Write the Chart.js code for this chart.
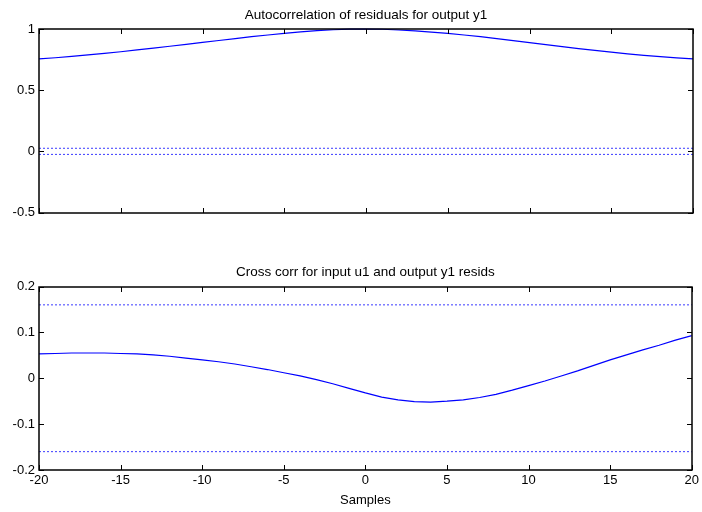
<!DOCTYPE html>
<html>
<head>
<meta charset="utf-8">
<script src="https://cdn.jsdelivr.net/npm/chart.js@4/dist/chart.umd.min.js"></script>
<style>
  html, body { margin: 0; padding: 0; background: #fff; }
  .pane { position: absolute; left: 0; width: 702px; }
  #topPane { top: 0; height: 250px; }
  #botPane { top: 250px; height: 262px; }
</style>
</head>
<body>
<div class="pane" id="topPane"><canvas id="autoCanvas"></canvas></div>
<div class="pane" id="botPane"><canvas id="crossCanvas"></canvas></div>
<script>
// lags shared by both plots
const lags = [-20, -19, -18, -17, -16, -15, -14, -13, -12, -11, -10, -9, -8, -7, -6, -5, -4, -3, -2, -1,
  0, 1, 2, 3, 4, 5, 6, 7, 8, 9, 10, 11, 12, 13, 14, 15, 16, 17, 18, 19, 20];

// autocorrelation of residuals, y1
const autoCorr = [0.755, 0.765, 0.776, 0.788, 0.801, 0.814, 0.829, 0.844, 0.859, 0.875, 0.891, 0.906, 0.921, 0.937, 0.951, 0.965, 0.977, 0.987, 0.994, 0.999,
  1.0, 0.998, 0.992, 0.984, 0.975, 0.964, 0.951, 0.937, 0.922, 0.905, 0.888, 0.872, 0.856, 0.840, 0.825, 0.811, 0.797, 0.785, 0.774, 0.764, 0.755];

// cross correlation u1 -> y1 resids
const crossCorr = [0.053, 0.054, 0.055, 0.055, 0.055, 0.054, 0.053, 0.051, 0.048, 0.044, 0.040, 0.036, 0.031, 0.025, 0.019, 0.012, 0.005, -0.003, -0.012, -0.022,
  -0.032, -0.041, -0.047, -0.051, -0.052, -0.050, -0.047, -0.042, -0.035, -0.026, -0.016, -0.006, 0.005, 0.016, 0.028, 0.040, 0.051, 0.062, 0.072, 0.083, 0.093];

// confidence bounds (x ends, upper, lower)
const confX = [-20, 20];
const autoConfHi = [0.025, 0.025];
const autoConfLo = [-0.025, -0.025];
const crossConfHi = [0.16, 0.16];
const crossConfLo = [-0.16, -0.16];

// tick labels
const xTicks = [-20, -15, -10, -5, 0, 5, 10, 15, 20];
const autoYTicks = [-0.5, 0, 0.5, 1];
const crossYTicks = [-0.2, -0.1, 0, 0.1, 0.2];

const FONT = 'Liberation Sans, Arial, Helvetica, sans-serif';
const BLUE = '#0000ff';

const pts = (xs, ys) => xs.map((x, i) => ({ x, y: ys[i] }));

// matlab style box with inward ticks
const matlabBox = {
  id: 'matlabBox',
  afterDatasetsDraw(chart) {
    const { ctx, chartArea: a, scales: { x, y } } = chart;
    const L = Math.round(a.left), R = Math.round(a.right);
    const T = Math.round(a.top), B = Math.round(a.bottom);
    const len = 5;
    ctx.save();
    ctx.strokeStyle = '#000';
    ctx.lineWidth = 1.5;
    ctx.strokeRect(L, T, R - L, B - T);
    ctx.lineWidth = 1;
    ctx.beginPath();
    x.ticks.forEach(t => {
      const px = Math.round(x.getPixelForValue(t.value)) + 0.5;
      ctx.moveTo(px, B); ctx.lineTo(px, B - len);
      ctx.moveTo(px, T); ctx.lineTo(px, T + len);
    });
    y.ticks.forEach(t => {
      const py = Math.round(y.getPixelForValue(t.value)) + 0.5;
      ctx.moveTo(L, py); ctx.lineTo(L + len, py);
      ctx.moveTo(R, py); ctx.lineTo(R - len, py);
    });
    ctx.stroke();
    ctx.restore();
  }
};

function lineSet(data, dashed) {
  return {
    data,
    borderColor: dashed ? '#3a3aff' : BLUE,
    borderWidth: dashed ? 1 : 1.2,
    borderDash: dashed ? [2, 2] : [],
    pointRadius: 0,
    tension: 0,
    clip: 2
  };
}

function makeChart(canvas, opts) {
  return new Chart(canvas, {
    type: 'line',
    data: {
      datasets: [
        lineSet(pts(lags, opts.series), false),
        lineSet(pts(confX, opts.hi), true),
        lineSet(pts(confX, opts.lo), true)
      ]
    },
    options: {
      responsive: true,
      maintainAspectRatio: false,
      animation: false,
      layout: { padding: { left: 0, right: 9, top: 0, bottom: 0 } },
      plugins: {
        legend: { display: false },
        tooltip: { enabled: false }
      },
      scales: {
        // top axis only carries the subplot title, centred over the plot box
        titleAxis: {
          type: 'linear',
          position: 'top',
          axis: 'x',
          min: -20,
          max: 20,
          grid: { display: false, drawTicks: false },
          border: { display: false },
          ticks: { display: false },
          afterFit: s => { s.height = opts.topHeight; },
          title: {
            display: true,
            text: opts.title,
            color: '#000',
            font: { family: FONT, size: 13.5 },
            padding: { top: opts.titleTop, bottom: 0 }
          }
        },
        x: {
          type: 'linear',
          min: -20,
          max: 20,
          grid: { display: false, drawTicks: false },
          border: { display: false },
          afterBuildTicks: s => { s.ticks = xTicks.map(v => ({ value: v })); },
          afterFit: s => { s.height = opts.xHeight; },
          ticks: {
            display: opts.showX,
            color: '#000',
            padding: 3,
            maxRotation: 0,
            font: { family: FONT, size: 13 }
          },
          title: {
            display: opts.showX,
            text: 'Samples',
            color: '#000',
            font: { family: FONT, size: 13 },
            padding: { top: 0, bottom: 4 }
          }
        },
        y: {
          min: opts.yTicks[0],
          max: opts.yTicks[opts.yTicks.length - 1],
          grid: { display: false, drawTicks: false },
          border: { display: false },
          afterBuildTicks: s => { s.ticks = opts.yTicks.map(v => ({ value: v })); },
          afterFit: s => { s.width = 39; },
          ticks: {
            color: '#000',
            padding: 4,
            font: { family: FONT, size: 13 },
            callback: v => String(v)
          }
        }
      }
    },
    plugins: [matlabBox]
  });
}

makeChart(document.getElementById('autoCanvas'), {
  title: 'Autocorrelation of residuals for output y1',
  series: autoCorr, hi: autoConfHi, lo: autoConfLo,
  yTicks: autoYTicks,
  showX: false,
  topHeight: 29,
  xHeight: 37.5,
  titleTop: 7
});

makeChart(document.getElementById('crossCanvas'), {
  title: 'Cross corr for input u1 and output y1 resids',
  series: crossCorr, hi: crossConfHi, lo: crossConfLo,
  yTicks: crossYTicks,
  showX: true,
  topHeight: 36.5,
  xHeight: 42,
  titleTop: 14.5
});
</script>
</body>
</html>
